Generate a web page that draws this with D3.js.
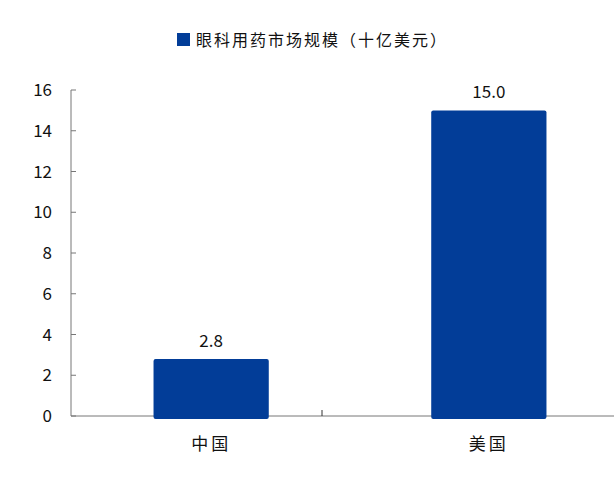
<!DOCTYPE html>
<html><head><meta charset="utf-8">
<script src="https://cdn.jsdelivr.net/npm/d3@7"></script>
<style>body{margin:0;background:#fff}text{font-family:"Noto Sans CJK SC","Liberation Sans",sans-serif}</style>
</head><body><svg id="c" width="614" height="478"></svg>
<script>
const categories = ['中国', '美国'];
const values = [2.8, 15.0];
const yTicks = [0, 2, 4, 6, 8, 10, 12, 14, 16];
const seriesName = '眼科用药市场规模（十亿美元）';

const svg = d3.select('#c');
const color = '#023d98';
const y = d3.scaleLinear().domain([0, 16]).range([416, 90]);
const x = d3.scaleBand().domain(categories).range([73, 627]).paddingInner(0.585).paddingOuter(0.29);

// axes
svg.append('line').attr('x1', 71).attr('x2', 71).attr('y1', 90).attr('y2', 416).attr('stroke', '#777');
svg.append('line').attr('x1', 71).attr('x2', 614).attr('y1', 416).attr('y2', 416).attr('stroke', '#777');
yTicks.forEach(t => {
  svg.append('line').attr('x1', 71).attr('x2', 76).attr('y1', y(t)).attr('y2', y(t)).attr('stroke', '#777');
  svg.append('text').attr('x', 52).attr('y', y(t)).attr('dy', '0.36em').attr('text-anchor', 'end')
    .attr('font-size', 17).attr('fill', '#111').text(t);
});
// tick between categories
svg.append('line').attr('x1', 322).attr('x2', 322).attr('y1', 410).attr('y2', 416).attr('stroke', '#333');

// bars
svg.selectAll('rect.bar').data(values).enter().append('rect')
  .attr('x', (d, i) => x(categories[i])).attr('width', x.bandwidth())
  .attr('y', d => y(d)).attr('height', d => y(0) - y(d) + 3)
  .attr('rx', 2).attr('fill', color);
svg.selectAll('text.val').data(values).enter().append('text')
  .attr('x', (d, i) => x(categories[i]) + x.bandwidth() / 2).attr('y', d => y(d) - 12)
  .attr('text-anchor', 'middle').attr('font-size', 17).attr('fill', '#111').text(d => d.toFixed(1));
svg.selectAll('text.cat').data(categories).enter().append('text')
  .attr('x', d => x(d) + x.bandwidth() / 2).attr('y', 450)
  .attr('text-anchor', 'middle').attr('font-size', 17).attr('fill', '#111').attr('letter-spacing', 3).text(d => d);

// legend
svg.append('rect').attr('x', 177).attr('y', 33).attr('width', 13).attr('height', 13).attr('fill', color);
svg.append('text').attr('x', 196).attr('y', 40).attr('dy', '0.36em').attr('font-size', 16)
  .attr('letter-spacing', 2).attr('fill', '#111').text(seriesName);
</script></body></html>
